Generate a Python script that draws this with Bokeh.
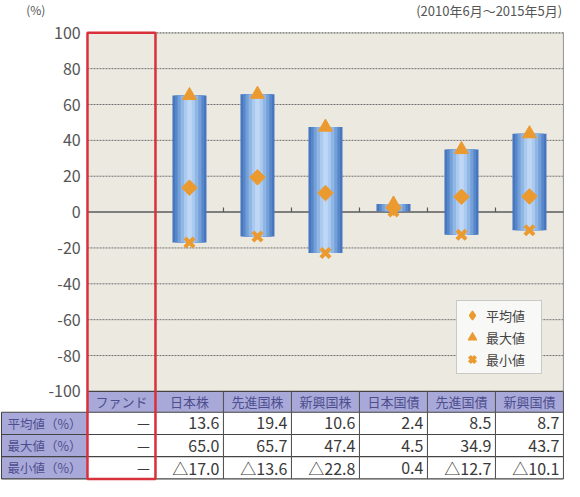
import math
from bokeh.plotting import figure
from bokeh.models import Range1d, Legend, LegendItem
from bokeh.core.properties import value
from bokeh.embed import file_html
from bokeh.resources import INLINE

# ---------------- data ----------------
categories = ["ファンド", "日本株", "先進国株", "新興国株", "日本国債", "先進国債", "新興国債"]
mean_vals = [None, 13.6, 19.4, 10.6, 2.4, 8.5, 8.7]
max_vals = [None, 65.0, 65.7, 47.4, 4.5, 34.9, 43.7]
min_vals = [None, -17.0, -13.6, -22.8, 0.4, -12.7, -10.1]
row_labels = ["平均値（%）", "最大値（%）", "最小値（%）"]
legend_labels = ["平均値", "最大値", "最小値"]
y_ticks = [100, 80, 60, 40, 20, 0, -20, -40, -60, -80, -100]
unit_text = "(%)"
period_text = "(2010年6月～2015年5月)"

# ---------------- style ----------------
FONT = value("Noto Sans CJK JP")
ORANGE = "#EB9A30"
PLOT_BG = "#ECE9E1"
LAVENDER = "#A8A9D9"
HEAD_TXT = "#4E4E8E"
RED = "#D9313B"
GRID = "#707070"

n = len(categories)
y_top, y_bot = 100, -100
head_h, row_h = 11.6, 12.4
label_left = -1.265

p = figure(width=564, height=481,
           x_range=Range1d(-1.279, 7.015), y_range=Range1d(-150.25, 118.0),
           output_backend="svg", toolbar_location=None,
           x_axis_location=None, y_axis_location=None, min_border=0)
p.grid.visible = False
p.outline_line_color = None
p.background_fill_color = "white"
p.border_fill_color = "white"

# plot background
p.quad(left=[0], right=[n], bottom=[y_bot], top=[y_top], fill_color=PLOT_BG, line_color=None)

# grid lines
gl = [t for t in y_ticks if t not in (0, y_top, y_bot)]
p.segment(x0=[0] * len(gl), x1=[n] * len(gl), y0=gl, y1=gl,
          line_color=GRID, line_width=1, line_dash="2 1")
p.segment(x0=[0], x1=[n], y0=[y_top], y1=[y_top], line_color="#6a6a6a", line_width=1.2, line_dash="2 1")
p.segment(x0=[n], x1=[n], y0=[y_bot], y1=[y_top], line_color="#9a9a9a", line_width=1.2)
# zero line with small ticks
p.segment(x0=[0], x1=[n], y0=[0], y1=[0], line_color="#5a5a5a", line_width=1.5)
tk = list(range(2, n))
p.segment(x0=tk, x1=tk, y0=[0] * len(tk), y1=[2.6] * len(tk), line_color="#5a5a5a", line_width=1.2)

# y tick labels
p.text(x=[-0.1] * len(y_ticks), y=y_ticks, text=[str(t) for t in y_ticks],
       text_align="right", text_baseline="middle", text_font=FONT,
       text_font_size="16px", text_color="#555555")
p.text(x=[-0.76], y=[113.2], text=[unit_text], text_align="center", text_baseline="middle",
       text_font=FONT, text_font_size="12px", text_color="#555555")
p.text(x=[n - 0.02], y=[112.4], text=[period_text], text_align="right", text_baseline="middle",
       text_font=FONT, text_font_size="13px", text_color="#555555")

# floating bars (min -> max) with cylinder shading
idx = [i for i in range(n) if max_vals[i] is not None]
xs = [i + 0.5 for i in idx]
tops = [max_vals[i] for i in idx]
bots = [min_vals[i] for i in idx]
means = [mean_vals[i] for i in idx]
layers = [(0.50, "#4676BE"), (0.43, "#5886CA"), (0.35, "#74A0D8"),
          (0.26, "#90B6E5"), (0.16, "#AACAEF"), (0.07, "#BDD7F4")]
for w, c in layers:
    p.vbar(x=xs, width=w, top=tops, bottom=bots, fill_color=c, line_color=None)

# legend stand-in for the mean marker (diamond shape in the legend box)
r_mean_leg = p.scatter(x=xs, y=means, marker="diamond", size=1,
                       fill_color=ORANGE, line_color=ORANGE, line_width=1.5)
r_mean = p.scatter(x=xs, y=means, marker="square", angle=math.pi / 4, size=11,
                   fill_color=ORANGE, line_color=ORANGE, line_width=1)
r_max = p.scatter(x=xs, y=tops, marker="triangle", size=14,
                  fill_color=ORANGE, line_color=ORANGE, line_width=1)
r_min = p.scatter(x=xs, y=bots, marker="x", size=13,
                  line_color=ORANGE, line_width=4)

legend = Legend(items=[LegendItem(label=legend_labels[0], renderers=[r_mean_leg]),
                       LegendItem(label=legend_labels[1], renderers=[r_max]),
                       LegendItem(label=legend_labels[2], renderers=[r_min])],
                location=(456, 107), orientation="vertical",
                glyph_width=24, glyph_height=22, label_height=22, label_width=52,
                spacing=0, padding=3, margin=0, label_standoff=2,
                label_text_font="Noto Sans CJK JP", label_text_font_size="13px",
                label_text_color="#444444",
                background_fill_color="#F8F8F6", background_fill_alpha=1,
                border_line_color="#9a9a9a", border_line_width=1)
p.add_layout(legend)

# ---------------- table ----------------
h_top, h_bot = y_bot, y_bot - head_h
row_tops = [h_bot - k * row_h for k in range(len(row_labels))]
row_bots = [t - row_h for t in row_tops]
table_bot = row_bots[-1]

# header cells
p.quad(left=[0], right=[n], top=[h_top], bottom=[h_bot], fill_color=LAVENDER, line_color=None)
# row label cells
p.quad(left=[label_left] * len(row_labels), right=[0] * len(row_labels),
       top=row_tops, bottom=row_bots, fill_color=LAVENDER, line_color=None)

# table lines
hy = [h_top, h_bot] + row_bots
hx0 = [0] + [label_left] * (len(hy) - 1)
p.segment(x0=hx0, x1=[n] * len(hy), y0=hy, y1=hy, line_color="#444444", line_width=1.1)
vx = list(range(1, n + 1))
p.segment(x0=vx, x1=vx, y0=[h_top] * len(vx), y1=[table_bot] * len(vx),
          line_color="#555555", line_width=1.1)
p.segment(x0=[label_left, 0], x1=[label_left, 0], y0=[h_bot, h_top], y1=[table_bot, table_bot],
          line_color="#444444", line_width=1.1)

# header text
p.text(x=[i + 0.5 for i in range(n)], y=[(h_top + h_bot) / 2] * n, text=categories,
       text_align="center", text_baseline="middle", text_font=FONT,
       text_font_size="13px", text_color=HEAD_TXT)
# row label text
p.text(x=[label_left / 2] * len(row_labels), y=[(t + b) / 2 for t, b in zip(row_tops, row_bots)],
       text=row_labels, text_align="center", text_baseline="middle", text_font=FONT,
       text_font_size="12.5px", text_color=HEAD_TXT)


def fmt(v):
    if v is None:
        return "－"
    if v < 0:
        return "△" + f"{abs(v):.1f}"
    return f"{v:.1f}"


cx, cy, ct = [], [], []
for k, series in enumerate([mean_vals, max_vals, min_vals]):
    for i in range(n):
        cx.append(i + 1 - 0.06)
        cy.append((row_tops[k] + row_bots[k]) / 2)
        ct.append(fmt(series[i]))
p.text(x=cx, y=cy, text=ct, text_align="right", text_baseline="middle", text_font=FONT,
       text_font_size="16px", text_color="#3a3a3a")

# red frame around the fund column
p.quad(left=[0], right=[1], top=[y_top], bottom=[table_bot], fill_color=None,
       line_color=RED, line_width=2.5)

open("out.html", "w").write(file_html(p, INLINE))
